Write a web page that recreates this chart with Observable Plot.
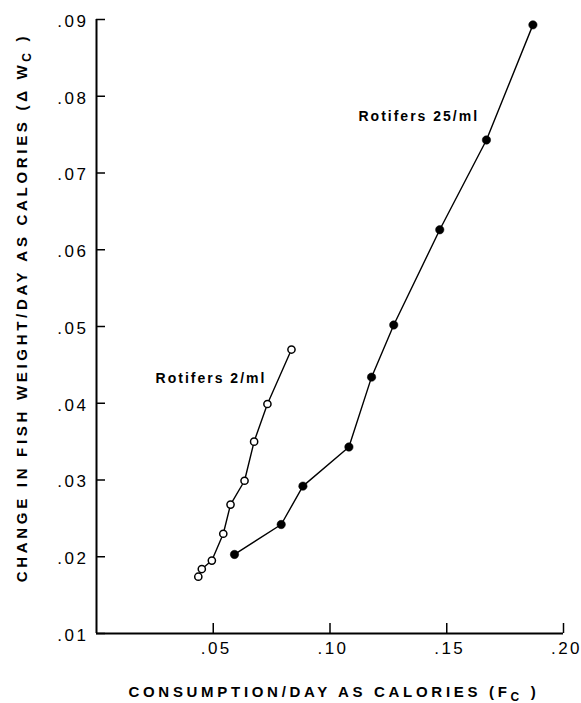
<!DOCTYPE html>
<html>
<head>
<meta charset="utf-8">
<script src="https://cdn.jsdelivr.net/npm/d3@7"></script>
<script src="https://cdn.jsdelivr.net/npm/@observablehq/plot@0.6"></script>
<style>
  html, body { margin: 0; padding: 0; background: #fff; }
  #chart svg { display: block; }
</style>
</head>
<body>
<div id="chart"></div>
<script>
// ---- data ----
const seriesNames = ["Rotifers 2/ml", "Rotifers 25/ml"];
const lowX  = [0.0436, 0.0451, 0.0494, 0.0543, 0.0574, 0.0634, 0.0675, 0.0732, 0.0835];
const lowY  = [0.0174, 0.0184, 0.0195, 0.0230, 0.0268, 0.0299, 0.0350, 0.0399, 0.0470];
const highX = [0.0591, 0.0791, 0.0884, 0.1081, 0.1178, 0.1273, 0.1470, 0.1670, 0.1869];
const highY = [0.0203, 0.0242, 0.0292, 0.0343, 0.0434, 0.0502, 0.0626, 0.0743, 0.0893];
const xTicks = [0.05, 0.10, 0.15, 0.20];
const yTicks = [0.01, 0.02, 0.03, 0.04, 0.05, 0.06, 0.07, 0.08, 0.09];
const xTitleMain = "CONSUMPTION/DAY AS CALORIES (F";
const yTitleMain = "CHANGE IN FISH WEIGHT/DAY AS CALORIES (\u0394 W";
const titleSub = "C";
const titleEnd = " )";
// label anchor points (data coordinates)
const labelX = [0.0253, 0.1122];
const labelY = [0.0432, 0.0774];

const low = lowX.map((x, i) => ({x, y: lowY[i]}));
const high = highX.map((x, i) => ({x, y: highY[i]}));
const labels = seriesNames.map((name, i) => ({name, x: labelX[i], y: labelY[i]}));
const fmt = d => d3.format(".2f")(d).replace(/^0/, "");

const font = "'Liberation Sans', Arial, Helvetica, sans-serif";

const W = 581, H = 703, mL = 96, mR = 18, mT = 19, mB = 70;
const xDomain = [0, 0.2], yDomain = [0.01, 0.09];
// inward tick lengths expressed in data units (10 px, 9 px)
const xTickLen = (yDomain[1] - yDomain[0]) * 10 / (H - mT - mB);
const yTickLen = (xDomain[1] - xDomain[0]) * 9 / (W - mL - mR);

const chart = Plot.plot({
  width: W,
  height: H,
  marginLeft: mL,
  marginRight: mR,
  marginTop: mT,
  marginBottom: mB,
  style: {fontFamily: font, background: "#fff", color: "#000", overflow: "visible"},
  x: {domain: xDomain, axis: null},
  y: {domain: yDomain, axis: null},
  marks: [
    // inward ticks
    Plot.ruleX(xTicks, {x: d => d, y1: yDomain[0], y2: yDomain[0] + xTickLen, strokeWidth: 1.5}),
    Plot.ruleY(yTicks, {y: d => d, x1: xDomain[0], x2: xDomain[0] + yTickLen, strokeWidth: 1.5}),
    // tick labels
    Plot.axisX({ticks: xTicks, tickSize: 0, tickPadding: 8, tickFormat: fmt, label: null, fontSize: 17, dx: 3}),
    Plot.axisY({ticks: yTicks, tickSize: 0, tickPadding: 8, tickFormat: fmt, label: null, fontSize: 17, dy: 2}),
    // axis lines
    Plot.ruleX([xDomain[0]], {strokeWidth: 2}),
    Plot.ruleY([yDomain[0]], {strokeWidth: 2}),
    // series
    Plot.line(low, {x: "x", y: "y", stroke: "#000", strokeWidth: 1.4}),
    Plot.line(high, {x: "x", y: "y", stroke: "#000", strokeWidth: 1.4}),
    Plot.dot(low, {x: "x", y: "y", r: 3.6, fill: "#fff", stroke: "#000", strokeWidth: 1.5}),
    Plot.dot(high, {x: "x", y: "y", r: 4.2, fill: "#000", stroke: "#000", strokeWidth: 0.5}),
    // series labels
    Plot.text(labels, {x: "x", y: "y", text: "name", textAnchor: "start", fontSize: 14, fontWeight: "bold"}),
    // axis titles
    Plot.text([xTitleMain], {frameAnchor: "bottom", text: d => d, textAnchor: "middle", lineAnchor: "middle",
      dy: 59, dx: 4, fontSize: 15, fontWeight: "bold"}),
    Plot.text([yTitleMain], {frameAnchor: "left", text: d => d, textAnchor: "middle", lineAnchor: "middle",
      rotate: -90, dx: -74, dy: -19, fontSize: 15, fontWeight: "bold"})
  ]
});

document.getElementById("chart").appendChild(chart);

const svg = d3.select(chart.tagName.toLowerCase() === "svg" ? chart : chart.querySelector("svg"));

// letter-spacing for the widely spaced lettering
svg.selectAll("text").each(function() {
  const t = this.textContent;
  const sel = d3.select(this);
  if (seriesNames.includes(t)) sel.style("letter-spacing", "2px");
  else if (/^\.\d\d$/.test(t)) sel.style("letter-spacing", "2.5px").attr("font-size", 17);
});

// subscripts in axis titles
function addSub(main) {
  svg.selectAll("text").filter(function() { return this.textContent === main; }).each(function() {
    const t = d3.select(this);
    t.text(null).style("letter-spacing", "3.7px");
    t.append("tspan").text(main);
    t.append("tspan").attr("dy", 4).attr("font-size", 12).text(titleSub);
    t.append("tspan").attr("dy", -4).text(titleEnd);
  });
}
addSub(xTitleMain);
addSub(yTitleMain);
</script>
</body>
</html>
